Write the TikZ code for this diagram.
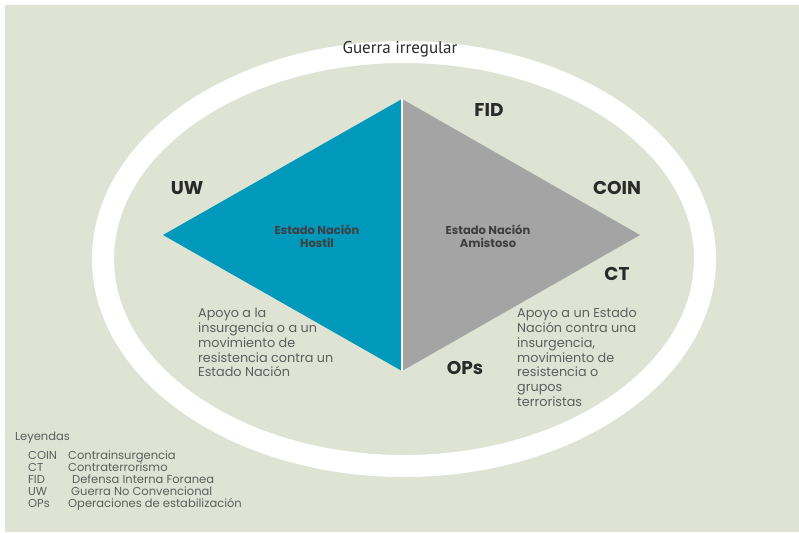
\documentclass[tikz,border=0pt]{standalone}
\usepackage{fontspec}
\setmainfont{Poppins}
\newfontfamily\titlefont{PT Sans}
\usepackage{tikz}
\usepackage{xcolor}

\definecolor{fondo}{HTML}{DFE3D4}
\definecolor{hostil}{HTML}{0098BB}
\definecolor{amistoso}{HTML}{A4A4A4}
\definecolor{oscuro}{HTML}{2A2A2A}
\definecolor{gris}{HTML}{5E5E5E}

\begin{document}
\begin{tikzpicture}[x=1pt,y=-1pt,
    tag/.style={font=\fontsize{18.5}{18.5}\selectfont\bfseries, text=oscuro},
    estado/.style={font=\fontsize{11.5}{13}\selectfont\bfseries, text=oscuro!90, align=center},
    apoyo/.style={font=\fontsize{12.8}{14.8}\selectfont, text=gris, align=left, anchor=north west, inner sep=0pt},
    ley/.style={font=\fontsize{11.5}{12}\selectfont, text=gris, anchor=base west, inner sep=0pt}]

    \useasboundingbox (0,0) rectangle (799,532);
    \fill[white] (0,0) rectangle (799,532);
    \fill[fondo] (5,5) rectangle (799,532);

    % anillo
    \draw[white, line width=22pt] (404,259) ellipse [x radius=301, y radius=207];
    \node[font=\titlefont\fontsize{17}{17}\selectfont, text=oscuro] (guerra) at (400,49) {Guerra irregular};

    % rombo
    \coordinate (arriba) at (402,99);
    \coordinate (izq) at (163,235);
    \coordinate (der) at (640,235);
    \coordinate (abajo) at (402,371);
    \fill[hostil] (izq) -- (arriba) -- (abajo) -- cycle;
    \fill[amistoso] (arriba) -- (der) -- (abajo) -- cycle;
    \draw[white, line width=1.5pt] (arriba) -- (abajo);

    \node[estado] (hostil) at (317,236) {Estado Nación\\Hostil};
    \node[estado] (amistoso) at (488,236) {Estado Nación\\Amistoso};

    \node[tag] (fid) at (489,110) {FID};
    \node[tag] (uw) at (187,188) {UW};
    \node[tag] (coin) at (617,188) {COIN};
    \node[tag] (ct) at (617,274) {CT};
    \node[tag] (ops) at (465,368) {OPs};

    \node[apoyo] (apoyoizq) at (198,308)
    {Apoyo a la\\insurgencia o a un\\movimiento de\\resistencia contra un\\Estado Nación};
    \node[apoyo] (apoyoder) at (517,308)
    {Apoyo a un Estado\\Nación contra una\\insurgencia,\\movimiento de\\resistencia o\\grupos\\terroristas};

    % leyendas
    \node[ley] (leyendas) at (15,440) {Leyendas};
    \node[ley] (coinab) at (28,459) {COIN};
    \node[ley] at (68,459) {Contrainsurgencia};
    \node[ley] (ctab) at (28,471) {CT};
    \node[ley] at (68,471) {Contraterrorismo};
    \node[ley] (fidab) at (28,483) {FID};
    \node[ley] at (72,483) {Defensa Interna Foranea};
    \node[ley] (uwab) at (28,495) {UW};
    \node[ley] at (71,495) {Guerra No Convencional};
    \node[ley] (opsab) at (28,507) {OPs};
    \node[ley] at (68,507) {Operaciones de estabilización};
\end{tikzpicture}
\end{document}
